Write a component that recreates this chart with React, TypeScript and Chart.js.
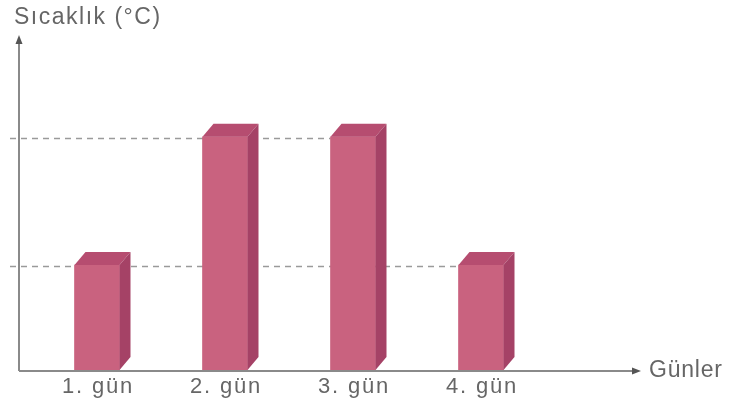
import React, { useEffect, useRef } from "react";
import { Chart, registerables } from "chart.js";

Chart.register(...registerables);

const days = ["1. gün", "2. gün", "3. gün", "4. gün"];
const temperatures = [9, 20, 20, 9];
const guideValues = [9, 20];
const yTitle = "Sıcaklık (°C)";
const xTitle = "Günler";

const FRONT = "#c9627f";
const TOP = "#b64d70";
const SIDE = "#a54266";
const AXIS = "#8a8a8a";
const TEXT = "#666666";
const FONT = "'Liberation Sans', Arial, sans-serif";

export default function App() {
  const ref = useRef<HTMLCanvasElement | null>(null);

  useEffect(() => {
    if (!ref.current) return;
    const DX = 11;
    const DY = 13;

    const decor = {
      id: "decor",
      beforeDatasetsDraw(chart: any) {
        const ctx = chart.ctx;
        const ys = chart.scales.y;
        const meta = chart.getDatasetMeta(0);
        ctx.save();
        ctx.strokeStyle = "#9a9a9a";
        ctx.lineWidth = 1.5;
        ctx.setLineDash([6, 5]);
        guideValues.forEach((v) => {
          let endX = 19;
          meta.data.forEach((bar: any, i: number) => {
            if (temperatures[i] === v) {
              endX = bar.x - bar.width / 2;
            }
          });
          const y = Math.round(ys.getPixelForValue(v)) + 1.5;
          ctx.beginPath();
          ctx.moveTo(10, y);
          ctx.lineTo(endX, y);
          ctx.stroke();
        });
        ctx.restore();
      },
      afterDatasetsDraw(chart: any) {
        const ctx = chart.ctx;
        const meta = chart.getDatasetMeta(0);
        const area = chart.chartArea;
        ctx.save();
        meta.data.forEach((bar: any) => {
          const w = bar.width;
          const l = bar.x - w / 2;
          const r = bar.x + w / 2;
          const t = bar.y;
          const b = bar.base;
          ctx.fillStyle = TOP;
          ctx.beginPath();
          ctx.moveTo(l, t);
          ctx.lineTo(r, t);
          ctx.lineTo(r + DX, t - DY);
          ctx.lineTo(l + DX, t - DY);
          ctx.closePath();
          ctx.fill();
          ctx.fillStyle = SIDE;
          ctx.beginPath();
          ctx.moveTo(r, t);
          ctx.lineTo(r + DX, t - DY);
          ctx.lineTo(r + DX, b - DY);
          ctx.lineTo(r, b);
          ctx.closePath();
          ctx.fill();
        });

        const x0 = 19;
        const yb = area.bottom + 1;
        ctx.strokeStyle = AXIS;
        ctx.fillStyle = "#555";
        ctx.lineWidth = 2;
        ctx.setLineDash([]);
        ctx.beginPath();
        ctx.moveTo(x0, yb);
        ctx.lineTo(x0, 42);
        ctx.moveTo(x0, yb);
        ctx.lineTo(634, yb);
        ctx.stroke();
        ctx.beginPath();
        ctx.moveTo(x0, 35);
        ctx.lineTo(x0 - 3.5, 44);
        ctx.lineTo(x0 + 3.5, 44);
        ctx.closePath();
        ctx.fill();
        ctx.beginPath();
        ctx.moveTo(641, yb);
        ctx.lineTo(632, yb - 3.5);
        ctx.lineTo(632, yb + 3.5);
        ctx.closePath();
        ctx.fill();

        ctx.fillStyle = TEXT;
        ctx.textBaseline = "alphabetic";
        (ctx as any).letterSpacing = "1.5px";
        ctx.font = `23px ${FONT}`;
        ctx.textAlign = "left";
        ctx.fillText(yTitle, 14, 24);
        (ctx as any).letterSpacing = "0.8px";
        ctx.font = `23px ${FONT}`;
        ctx.fillText(xTitle, 649, 377);
        (ctx as any).letterSpacing = "1.8px";
        ctx.font = `22px ${FONT}`;
        ctx.textAlign = "center";
        meta.data.forEach((bar: any, i: number) => {
          ctx.fillText(days[i], bar.x + 1, 393);
        });
        ctx.restore();
      },
    };

    const chart = new Chart(ref.current, {
      type: "bar",
      data: {
        labels: days,
        datasets: [
          {
            data: temperatures,
            backgroundColor: FRONT,
            borderWidth: 0,
            barThickness: 45,
          },
        ],
      },
      options: {
        animation: false,
        responsive: false,
        maintainAspectRatio: false,
        devicePixelRatio: 1,
        layout: { padding: { left: 33, right: 184, top: 40, bottom: 37 } },
        plugins: {
          legend: { display: false },
          tooltip: { enabled: false },
        },
        scales: {
          x: { display: false, offset: true },
          y: { display: false, min: 0, max: 28.3 },
        },
      },
      plugins: [decor],
    });
    return () => chart.destroy();
  }, []);

  return (
    <div style={{ position: "fixed", left: 0, top: 0, width: 729, height: 407, background: "#fff" }}>
      <canvas ref={ref} width={729} height={407} style={{ width: 729, height: 407, display: "block" }} />
    </div>
  );
}
